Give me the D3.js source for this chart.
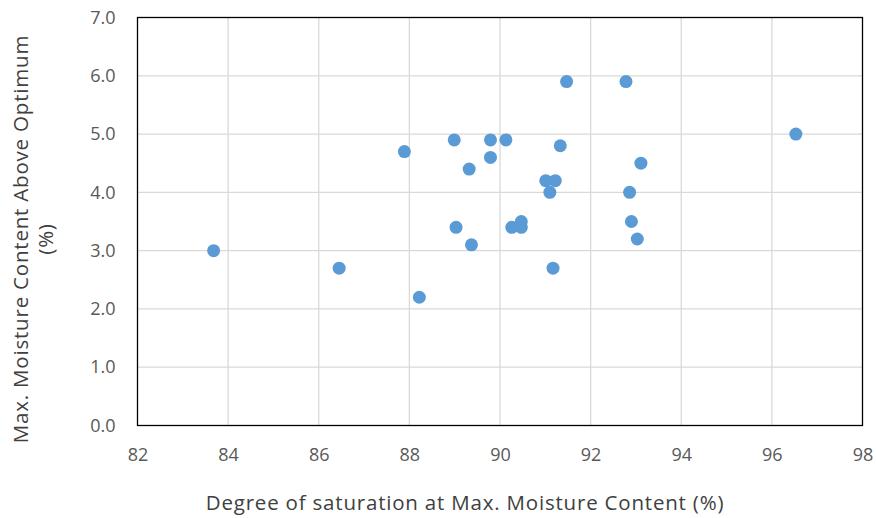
<!DOCTYPE html>
<html><head><meta charset="utf-8">
<script src="https://cdn.jsdelivr.net/npm/d3@7"></script>
<style>body{margin:0;background:#fff}svg{display:block}text{font-family:"Open Sans",sans-serif}</style>
</head><body><svg id="c" width="876" height="518"></svg>
<script>
const saturation = [83.68,86.45,88.22,87.89,88.99,89.03,89.32,89.37,89.79,89.79,90.13,90.26,90.47,90.47,91.01,91.22,91.10,91.33,91.47,91.17,92.78,92.86,92.90,93.03,93.11,96.53];
const moisture   = [3.0,2.7,2.2,4.7,4.9,3.4,4.4,3.1,4.9,4.6,4.9,3.4,3.5,3.4,4.2,4.2,4.0,4.8,5.9,2.7,5.9,4.0,3.5,3.2,4.5,5.0];
const xTicks = [82,84,86,88,90,92,94,96,98];
const yTicks = [0,1,2,3,4,5,6,7];
const xTitle = "Degree of saturation at Max. Moisture Content (%)";
const yTitle = ["Max. Moisture Content Above Optimum","(%)"];

const svg = d3.select("#c");
const L=137.5,R=862.5,T=17.5,B=425.5;
const x = d3.scaleLinear().domain([82,98]).range([L,R]);
const y = d3.scaleLinear().domain([0,7]).range([B,T]);

const g = svg.append("g");
g.append("g").selectAll("line").data(xTicks.slice(1,-1)).join("line")
 .attr("x1",d=>x(d)).attr("x2",d=>x(d)).attr("y1",T).attr("y2",B)
 .attr("stroke","#d9d9d9").attr("stroke-width",1.3);
g.append("g").selectAll("line").data(yTicks.slice(1,-1)).join("line")
 .attr("y1",d=>y(d)).attr("y2",d=>y(d)).attr("x1",L).attr("x2",R)
 .attr("stroke","#d9d9d9").attr("stroke-width",1.3);
g.append("rect").attr("x",L).attr("y",T).attr("width",R-L).attr("height",B-T)
 .attr("fill","none").attr("stroke","#000").attr("stroke-width",1.3);

const fsT = 18;
const xa = svg.append("g").attr("transform",`translate(0,${B})`)
 .call(d3.axisBottom(x).tickValues(xTicks).tickSize(0).tickPadding(22.5).tickFormat(d3.format("d")));
xa.select(".domain").remove();
xa.selectAll("text").attr("font-size",fsT).attr("fill","#595959").style("font-family","'Open Sans',sans-serif");
const ya = svg.append("g").attr("transform",`translate(${L},0)`)
 .call(d3.axisLeft(y).tickValues(yTicks).tickSize(0).tickPadding(22).tickFormat(d3.format(".1f")));
ya.select(".domain").remove();
ya.selectAll("text").attr("font-size",fsT).attr("fill","#595959").style("font-family","'Open Sans',sans-serif");

svg.append("g").selectAll("circle").data(saturation.map((s,i)=>[s,moisture[i]])).join("circle")
 .attr("cx",d=>x(d[0])).attr("cy",d=>y(d[1])).attr("r",6.5).attr("fill","#5b9bd5");

const tt = (sel)=>sel.attr("text-anchor","middle").attr("font-size",20.5).attr("fill","#404040").attr("letter-spacing",0.8);
svg.append("text").attr("x",465).attr("y",510).call(tt).text(xTitle);
svg.append("text").attr("transform","translate(28,239) rotate(-90)").call(tt).text(yTitle[0]);
svg.append("text").attr("transform","translate(53,239) rotate(-90)").call(tt).text(yTitle[1]);
</script></body></html>
